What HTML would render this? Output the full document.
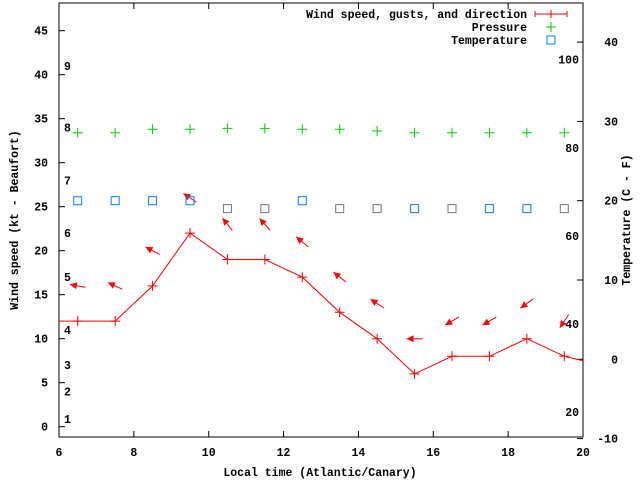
<!DOCTYPE html>
<html><head><meta charset="utf-8"><style>
body{margin:0;background:#fff}
svg text{font-family:"Liberation Mono",monospace;font-weight:bold;font-size:11.5px;fill:#000}
</style></head><body>
<svg id="chart" width="640" height="480" viewBox="0 0 640 480" xmlns="http://www.w3.org/2000/svg">
<defs><clipPath id="plotclip"><rect x="59" y="3" width="524" height="434"/></clipPath></defs>
<g id="axes"></g>
<g id="marks" clip-path="url(#plotclip)"></g>
<g id="legend"></g>
</svg>
<script>
const hours=[6.5,7.5,8.5,9.5,10.5,11.5,12.5,13.5,14.5,15.5,16.5,17.5,18.5,19.5];
const windSpeed=[12,12,16,22,19,19,17,13,10,6,8,8,10,8];
const lineHours=[5.5,6.5,7.5,8.5,9.5,10.5,11.5,12.5,13.5,14.5,15.5,16.5,17.5,18.5,19.5,20.5];
const lineSpeed=[12,12,12,16,22,19,19,17,13,10,6,8,8,10,8,7];
const gusts=[16,16,20,26,23,23,21,17,14,10,12,12,14,12];
const windDir=[101,115,118,124,142,138,130,128,123,90,60,60,54,34];
const pressure=[33.4,33.4,33.8,33.8,33.9,33.9,33.8,33.8,33.6,33.4,33.4,33.4,33.4,33.4];
const tempC=[20,20,20,20,19,19,20,19,19,19,19,19,19,19];
const xTicks=[6,8,10,12,14,16,18,20];
const yTicks=[0,5,10,15,20,25,30,35,40,45];
const tTicks=[-10,0,10,20,30,40];
const beaufortLabels=["1","2","3","4","5","6","7","8","9"];
const beaufortKt=[0.9,4,7,11,17,22,28,34,41];
const fLabels=["20","40","60","80","100"];
const fValues=[20,40,60,80,100];

const L=59,R=583,T=3,B=437;
const X=h=>L+(h-6)*(R-L)/14;
const Y=v=>426.7-v*8.8;
const YT=c=>359.3-c*7.93;
const NS="http://www.w3.org/2000/svg";
function mk(tag,attrs,parent){const e=document.createElementNS(NS,tag);for(const k in attrs)e.setAttribute(k,attrs[k]);parent.appendChild(e);return e;}
const axes=document.getElementById('axes'),marks=document.getElementById('marks'),leg=document.getElementById('legend');

let fr=mk('rect',{x:L,y:T,width:R-L,height:B-T,fill:'none',stroke:'#000','stroke-width':1},axes);

xTicks.forEach(h=>{
  mk('line',{x1:X(h),x2:X(h),y1:B,y2:B-6,stroke:'#000'},axes);
  mk('line',{x1:X(h),x2:X(h),y1:T,y2:T+6,stroke:'#000'},axes);
  const t=mk('text',{x:X(h),y:B+19,'text-anchor':'middle'},axes);t.textContent=h;
  
});
yTicks.forEach(v=>{
  mk('line',{x1:L,x2:L+6,y1:Y(v),y2:Y(v),stroke:'#000'},axes);
  const t=mk('text',{x:L-11,y:Y(v)+4,'text-anchor':'end'},axes);t.textContent=v;
  
});
tTicks.forEach(v=>{
  mk('line',{x1:R,x2:R-6,y1:YT(v),y2:YT(v),stroke:'#000'},axes);
  const t=mk('text',{x:R+35,y:YT(v)+4,'text-anchor':'end'},axes);t.textContent=v;
  
});
beaufortLabels.forEach((s,i)=>{
  const t=mk('text',{x:64,y:Y(beaufortKt[i])+4},axes);t.textContent=s;
  
});
fValues.forEach((f,i)=>{
  const t=mk('text',{x:579,y:YT((f-32)*5/9)+4,'text-anchor':'end'},axes);t.textContent=fLabels[i];
  
});
let t=mk('text',{x:320,y:476,'text-anchor':'middle'},axes);t.textContent='Local time (Atlantic/Canary)';

t=mk('text',{x:0,y:0,'text-anchor':'middle',transform:'translate(18,220) rotate(-90)'},axes);t.textContent='Wind speed (kt - Beaufort)';

t=mk('text',{x:0,y:0,'text-anchor':'middle',transform:'translate(630,220) rotate(-90)'},axes);t.textContent='Temperature (C - F)';


// wind line
let pl=mk('polyline',{points:lineHours.map((h,i)=>X(h)+','+Y(lineSpeed[i])).join(' '),fill:'none',stroke:'#f00','stroke-width':1},marks);

hours.forEach((h,i)=>{
  const x=X(h),y=Y(windSpeed[i]);
  const g=mk('path',{d:`M${x-5} ${y}h10M${x} ${y-5}v10`,stroke:'#f00'},marks);
  
  // direction arrow at gust
  const d=windDir[i]*Math.PI/180,dx=-Math.sin(d),dy=Math.cos(d);
  const cx=X(h),cy=Y(gusts[i]),len=16;
  const hx=cx+dx*len/2,hy=cy+dy*len/2,tx=cx-dx*len/2,ty=cy-dy*len/2;
  const px=-dy,py=dx;
  const a=mk('line',{x1:tx,y1:ty,x2:hx,y2:hy,stroke:'#f00','stroke-width':1},marks);
  
  const bx=hx-dx*7,by=hy-dy*7;
  const hd=mk('polygon',{points:`${hx},${hy} ${bx+px*3.5},${by+py*3.5} ${bx-px*3.5},${by-py*3.5}`,fill:'#f00'},marks);
  
  const p=mk('path',{d:`M${x-5} ${Y(pressure[i])}h10M${x} ${Y(pressure[i])-5}v10`,stroke:'#0c0'},marks);
  
  const s=mk('rect',{x:x-4,y:YT(tempC[i])-4,width:8,height:8,fill:'none',stroke:i==4||i==5||i>=7?(i==4||i==5?'#888':'#888'):'#08f'},marks);
  s.setAttribute('stroke', (i<4||i==6||i==9||i==11||i==12)?'#0a7cff':'#777');
  
});

// legend
const items=[['Wind speed, gusts, and direction',14,'w'],['Pressure',27,'p'],['Temperature',40,'t']];
items.forEach(([s,y,k])=>{
  const e=mk('text',{x:527,y:y+4,'text-anchor':'end'},leg);e.textContent=s;
  
  if(k=='w'){mk('path',{d:`M535 ${y}h32M535 ${y-3}v6M567 ${y-3}v6M551 ${y-4}v8`,stroke:'#f00'},leg);}
  if(k=='p'){mk('path',{d:`M546 ${y}h10M551 ${y-5}v10`,stroke:'#0c0'},leg);}
  if(k=='t'){mk('rect',{x:547,y:y-4,width:8,height:8,fill:'none',stroke:'#0a7cff'},leg);}
});
</script>
</body></html>
